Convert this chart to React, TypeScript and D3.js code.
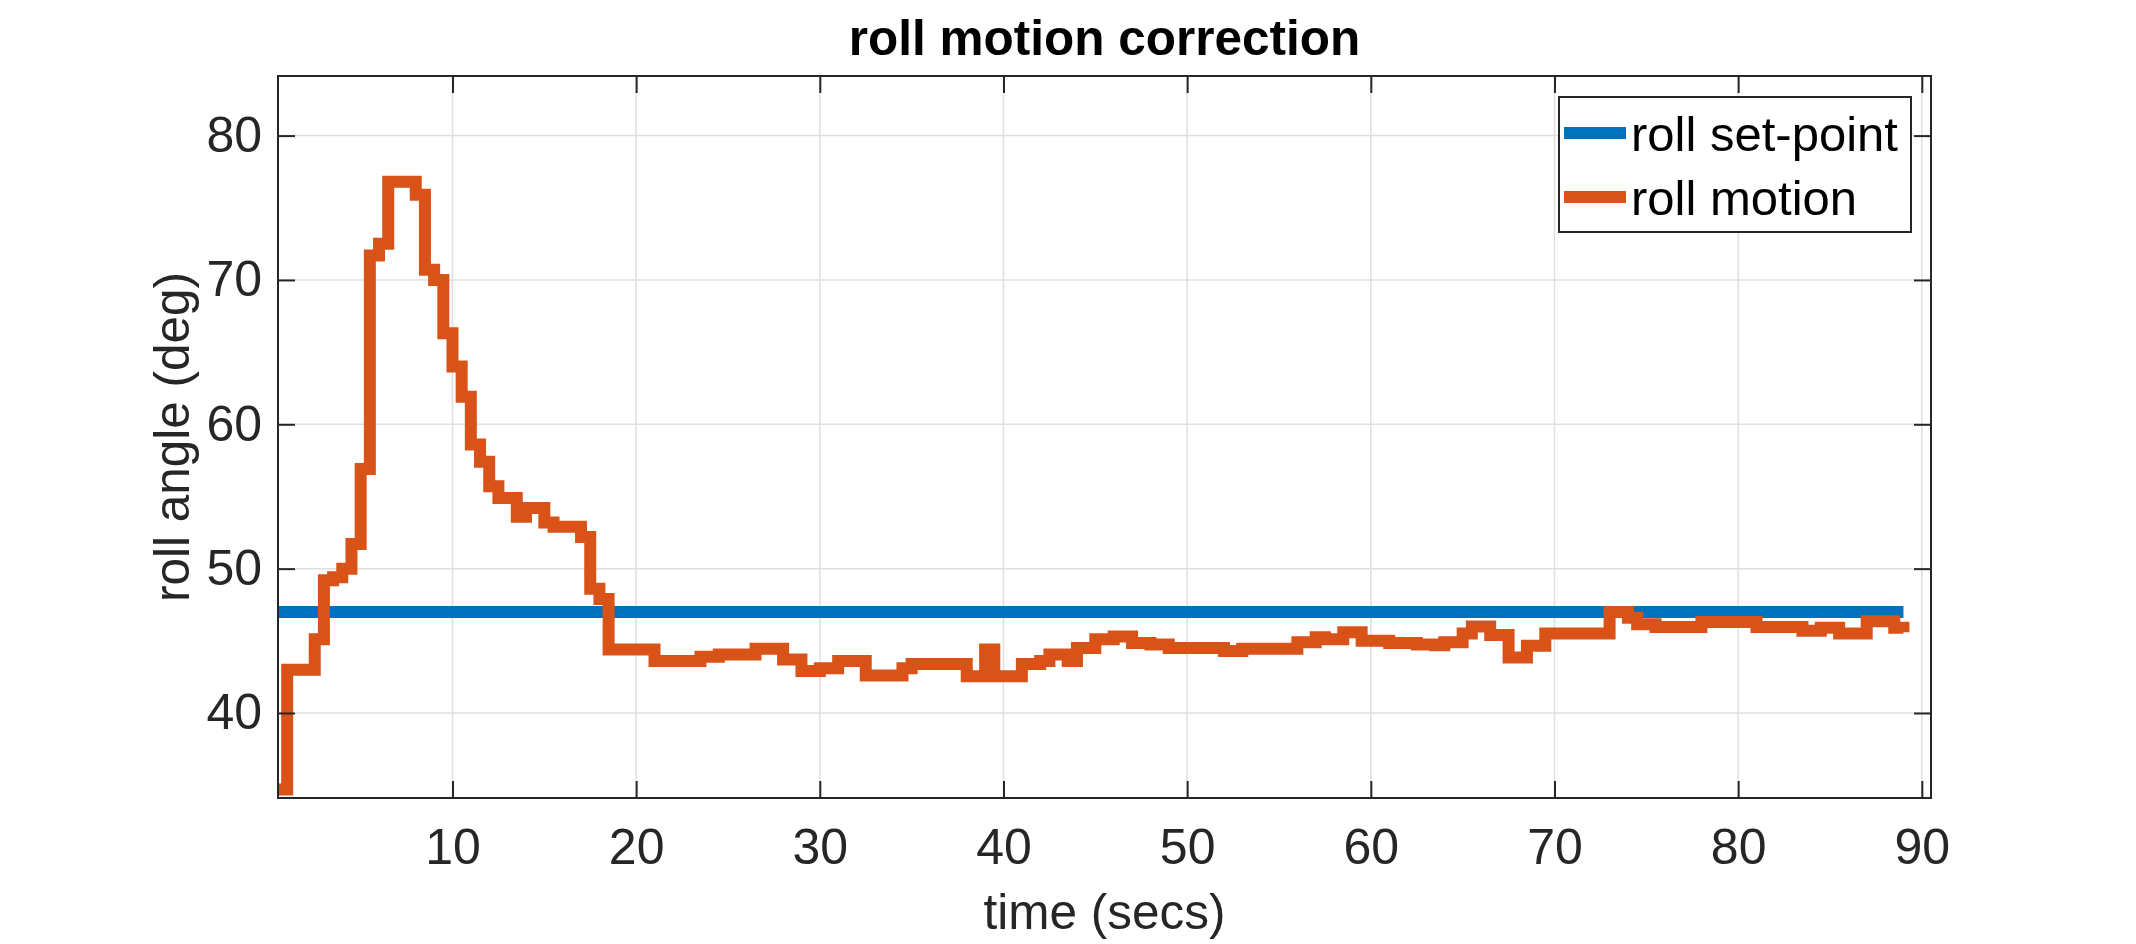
import React, { useEffect, useRef } from 'react';
import * as d3 from 'd3';

// roll set-point (deg), held constant over the run
const setpointTime = [0.5, 89];
const setpointValue = [47, 47];

// measured roll angle, sampled every 0.5 s (only the change points are listed)
const rollTime = [
  0.5, 1, 2.5, 3, 3.5, 4, 4.5, 5, 5.5, 6, 6.5, 8, 8.5, 9, 9.5, 10, 10.5, 11, 11.5, 12,
  12.5, 13.5, 14, 15, 15.5, 17, 17.5, 18, 18.5, 21, 23.5, 24.5, 26.5, 28, 29, 30, 31,
  32.5, 34.5, 35, 38, 39, 39.5, 41, 42, 42.5, 43.5, 44, 45, 46, 47, 48, 49, 52, 53, 56,
  57, 57.5, 58.5, 59.5, 61, 62.5, 63.5, 64, 65, 65.5, 66.5, 67.5, 68.5, 69.5, 73, 74,
  74.5, 75.5, 78, 81, 83.5, 84.5, 85.5, 87, 88.5, 89,
];
const rollValue = [
  34.7, 43.0, 45.1, 49.2, 49.4, 50.0, 51.7, 56.9, 71.7, 72.5, 76.8, 75.9, 70.7, 70.0, 66.3, 64.0, 61.9, 58.6, 57.4, 55.7,
  54.9, 53.6, 54.2, 53.2, 52.9, 52.2, 48.6, 47.9, 44.4, 43.6, 43.9, 44.05, 44.45, 43.7, 42.9, 43.1, 43.6,
  42.6, 43.1, 43.4, 42.55, 44.4, 42.55, 43.4, 43.6, 44.05, 43.6, 44.5, 45.1, 45.3, 44.85, 44.75, 44.5, 44.3, 44.45, 44.9,
  45.25, 45.1, 45.6, 45.0, 44.85, 44.75, 44.7, 44.9, 45.5, 46.0, 45.4, 43.85, 44.65, 45.5, 47.0, 46.6,
  46.15, 45.95, 46.3, 45.95, 45.7, 45.9, 45.5, 46.35, 45.9, 45.6,
];

const xTicks = [10, 20, 30, 40, 50, 60, 70, 80, 90];
const yTicks = [40, 50, 60, 70, 80];

const seriesNames = ['roll set-point', 'roll motion'];
const seriesColors = ['#0072BD', '#D95319'];

const FONT = '"Liberation Sans", Arial, Helvetica, sans-serif';
const AXIS_COLOR = '#262626';

const RollChart = () => {
  const chartRef = useRef(null);

  useEffect(() => {
    if (!chartRef.current) return;
    d3.select(chartRef.current).selectAll('*').remove();

    const W = 2136;
    const H = 944;
    const margin = { top: 76, right: 205, bottom: 146, left: 278 };
    const width = W - margin.left - margin.right;
    const height = H - margin.top - margin.bottom;
    const tickLen = 17;

    const root = d3.select(chartRef.current)
      .append('svg')
      .attr('width', W)
      .attr('height', H)
      .style('display', 'block')
      .style('background', '#fff');

    const svg = root.append('g')
      .attr('transform', `translate(${margin.left},${margin.top})`);

    const x = d3.scaleLinear().domain([0.5, 90.5]).range([0, width]);
    const y = d3.scaleLinear().domain([34.11, 84.13]).range([height, 0]);

    svg.append('defs').append('clipPath')
      .attr('id', 'plot-clip')
      .append('rect')
      .attr('width', width)
      .attr('height', height);

    // grid
    const grid = svg.append('g').attr('stroke', '#dfdfdf').attr('stroke-width', 1.5);
    grid.selectAll('line.gx')
      .data(xTicks)
      .join('line')
      .attr('x1', (d) => x(d)).attr('x2', (d) => x(d))
      .attr('y1', 0).attr('y2', height);
    grid.selectAll('line.gy')
      .data(yTicks)
      .join('line')
      .attr('x1', 0).attr('x2', width)
      .attr('y1', (d) => y(d)).attr('y2', (d) => y(d));

    // series
    const stair = d3.line()
      .x((d) => x(d[0]))
      .y((d) => y(d[1]))
      .curve(d3.curveStepAfter);

    const lines = svg.append('g').attr('clip-path', 'url(#plot-clip)');
    lines.append('path')
      .datum(setpointTime.map((t, i) => [t, setpointValue[i]]))
      .attr('fill', 'none')
      .attr('stroke', seriesColors[0])
      .attr('stroke-width', 12)
      .attr('d', d3.line().x((d) => x(d[0])).y((d) => y(d[1])));
    lines.append('path')
      .datum(rollTime.map((t, i) => [t, rollValue[i]]))
      .attr('fill', 'none')
      .attr('stroke', seriesColors[1])
      .attr('stroke-width', 12)
      .attr('stroke-linejoin', 'miter')
      .attr('d', stair);

    // axes, ticks pointing inward on all four sides
    const styleAxis = (g) => {
      g.select('.domain').remove();
      g.selectAll('.tick line').attr('stroke', AXIS_COLOR).attr('stroke-width', 2);
      g.selectAll('.tick text')
        .attr('fill', AXIS_COLOR)
        .style('font-family', FONT)
        .style('font-size', '50px');
    };

    svg.append('g')
      .attr('transform', `translate(0,${height})`)
      .call(d3.axisBottom(x).tickValues(xTicks).tickSize(-tickLen).tickPadding(30))
      .call(styleAxis);
    svg.append('g')
      .call(d3.axisLeft(y).tickValues(yTicks).tickSize(-tickLen).tickPadding(16))
      .call(styleAxis);
    svg.append('g')
      .call(d3.axisTop(x).tickValues(xTicks).tickSize(-tickLen).tickFormat(() => ''))
      .call(styleAxis);
    svg.append('g')
      .attr('transform', `translate(${width},0)`)
      .call(d3.axisRight(y).tickValues(yTicks).tickSize(-tickLen).tickFormat(() => ''))
      .call(styleAxis);

    svg.append('rect')
      .attr('width', width)
      .attr('height', height)
      .attr('fill', 'none')
      .attr('stroke', AXIS_COLOR)
      .attr('stroke-width', 2);

    // title and axis labels
    root.append('text')
      .attr('x', margin.left + width / 2)
      .attr('y', 55)
      .attr('text-anchor', 'middle')
      .style('font-family', FONT)
      .style('font-size', '49.5px')
      .style('font-weight', 'bold')
      .attr('fill', '#000')
      .text('roll motion correction');

    root.append('text')
      .attr('x', margin.left + width / 2)
      .attr('y', 929)
      .attr('text-anchor', 'middle')
      .style('font-family', FONT)
      .style('font-size', '49.5px')
      .attr('fill', AXIS_COLOR)
      .text('time (secs)');

    root.append('text')
      .attr('transform', `translate(189,${margin.top + height / 2}) rotate(-90)`)
      .attr('text-anchor', 'middle')
      .style('font-family', FONT)
      .style('font-size', '49.5px')
      .attr('fill', AXIS_COLOR)
      .text('roll angle (deg)');

    // legend
    const legend = root.append('g').attr('transform', 'translate(1559,97)');
    legend.append('rect')
      .attr('width', 352)
      .attr('height', 135)
      .attr('fill', '#fff')
      .attr('stroke', AXIS_COLOR)
      .attr('stroke-width', 2);
    seriesNames.forEach((name, i) => {
      const cy = 36 + i * 64;
      legend.append('line')
        .attr('x1', 5).attr('x2', 67)
        .attr('y1', cy).attr('y2', cy)
        .attr('stroke', seriesColors[i])
        .attr('stroke-width', 12);
      legend.append('text')
        .attr('x', 72)
        .attr('y', cy + 18)
        .style('font-family', FONT)
        .style('font-size', '49px')
        .attr('fill', '#000')
        .text(name);
    });
  }, []);

  return <div ref={chartRef} style={{ position: 'absolute', left: 0, top: 0 }}></div>;
};

export default function App() {
  return <RollChart />;
}
